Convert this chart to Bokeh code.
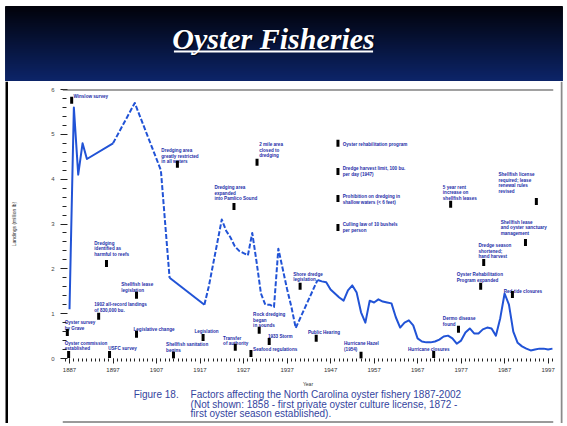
import numpy as np
from bokeh.plotting import figure
from bokeh.models import Range1d, FixedTicker, Span
from bokeh.layouts import column, row
from bokeh.core.properties import value
from bokeh.embed import file_html
from bokeh.resources import INLINE

# ---------------- data ----------------
title_text = "Oyster Fisheries"

years = [1887, 1888, 1889, 1890, 1891, 1897, 1902, 1908, 1909, 1910,
         1918, 1919, 1920, 1921, 1922, 1923, 1924, 1925, 1926, 1927,
         1928, 1929, 1930, 1931, 1932, 1933, 1934, 1935, 1936, 1937,
         1938, 1939, 1944, 1945, 1946, 1947, 1948, 1949, 1950, 1951,
         1952, 1953, 1954, 1955, 1956, 1957, 1958, 1959, 1960, 1961,
         1962, 1963, 1964, 1965, 1966, 1967, 1968, 1969, 1970, 1971,
         1972, 1973, 1974, 1975, 1976, 1977, 1978, 1979, 1980, 1981,
         1982, 1983, 1984, 1985, 1986, 1987, 1988, 1989, 1990, 1991,
         1992, 1993, 1994, 1995, 1996, 1997, 1998]
landings = [1.10, 5.60, 4.10, 4.80, 4.45, 4.80, 5.70, 4.20, 3.00, 1.80,
            1.20, 1.60, 2.10, 2.60, 3.10, 2.85, 2.70, 2.50, 2.40, 2.35,
            2.30, 2.80, 2.15, 1.45, 1.20, 1.20, 1.15, 2.45, 2.00, 1.55,
            1.15, 0.68, 1.75, 1.72, 1.70, 1.54, 1.45, 1.36, 1.29, 1.52,
            1.63, 1.47, 1.03, 0.80, 1.29, 1.25, 1.32, 1.27, 1.25, 1.23,
            0.92, 0.69, 0.80, 0.85, 0.74, 0.45, 0.38, 0.36, 0.36, 0.38,
            0.42, 0.49, 0.51, 0.45, 0.33, 0.40, 0.58, 0.67, 0.56, 0.56,
            0.65, 0.69, 0.67, 0.51, 0.90, 1.45, 1.20, 0.60, 0.35, 0.27,
            0.22, 0.18, 0.20, 0.22, 0.22, 0.20, 0.22]
dashed_periods = [(1897, 1910), (1918, 1944)]

x_ticks = list(range(1887, 1998, 10))
x_minor = list(range(1886, 1999))
y_ticks = [0, 1, 2, 3, 4, 5, 6]
y_minor = [round(v * 0.2, 1) for v in range(0, 31)]
x_label = "Year"
y_label = "Landings (million lb)"

ann_years = [1887.9, 1908.1, 1930.6, 1920.3, 1949.8, 1949.8, 1949.8, 1949.8,
             1972.8, 1985.6, 1986.1, 1981.0, 1976.0, 1986.8, 1972.8, 1964.8,
             1938.4, 1929.2, 1932.6, 1929.2, 1941.8, 1950.1, 1915.7, 1922.3,
             1909.2, 1885.9, 1885.9, 1895.9, 1901.7, 1892.7, 1898.9, 1892.7]
ann_values = [5.89, 4.69, 4.82, 3.86, 4.84, 4.29, 3.66, 3.04,
              3.88, 4.15, 3.10, 2.57, 1.92, 1.56, 0.94, 0.25,
              1.94, 1.03, 0.54, 0.25, 0.63, 0.38, 0.65, 0.51,
              0.36, 0.85, 0.40, 0.27, 0.71, 1.25, 1.70, 2.63]
ann_texts = [
    "Winslow survey",
    "Dredging area\ngreatly restricted\nin all waters",
    "2 mile area\nclosed to\ndredging",
    "Dredging area\nexpanded\ninto Pamlico Sound",
    "Oyster rehabilitation program",
    "Dredge harvest limit, 100 bu.\nper day (1947)",
    "Prohibition on dredging in\nshallow waters (< 6 feet)",
    "Culling law of 10 bushels\nper person",
    "5 year rent\nincrease on\nshellfish leases",
    "Shellfish license\nrequired; lease\nrenewal rules\nrevised",
    "Shellfish lease\nand oyster sanctuary\nmanagement",
    "Dredge season\nshortened;\nhand harvest",
    "Oyster Rehabilitation\nProgram expanded",
    "Red tide closures",
    "Dermo disease\nfound",
    "Hurricane closures",
    "Shore dredge\nlegislation",
    "Rock dredging\nbegan\nin sounds",
    "1933 Storm",
    "Seafood regulations",
    "Public Hearing",
    "Hurricane Hazel\n(1954)",
    "Legislation",
    "Transfer\nof authority",
    "Shellfish sanitation\nbegins",
    "Oyster survey\nby Grave",
    "Oyster commission\nestablished",
    "USFC survey",
    "Legislative change",
    "1902 all-record landings\nof 830,000 bu.",
    "Shellfish lease\nlegislation",
    "Dredging\nidentified as\nharmful to reefs",
]
mark_years = [1887.5, 1911.8, 1930.1, 1924.8, 1948.7, 1948.7, 1948.7, 1948.7,
              1974.6, 1994.3, 1991.8, 1982.2, 1981.5, 1988.8, 1976.4, 1970.7,
              1940.0, 1930.6, 1932.9, 1928.7, 1943.7, 1954.0, 1917.7, 1925.1,
              1910.9, 1886.5, 1886.8, 1896.2, 1902.4, 1893.7, 1902.4, 1895.5]
mark_values = [5.76, 4.33, 4.38, 3.39, 4.80, 4.17, 3.57, 2.92,
               3.44, 3.50, 2.59, 2.14, 1.61, 1.43, 0.65, 0.09,
               1.61, 0.63, 0.38, 0.11, 0.45, 0.07, 0.47, 0.25,
               0.07, 0.58, 0.09, 0.09, 0.54, 0.94, 1.41, 2.12]

caption_lead = "Figure 18."
caption_lines = [
    "Factors affecting the North Carolina oyster fishery 1887-2002",
    "(Not shown: 1858 - first private oyster culture license, 1872 -",
    "first oyster season established).",
]

# ---------------- styles ----------------
BLUE = "#2153d6"
NAVY = "#1d2ea8"
CAPTION = "#34449e"
SANS = value("Liberation Sans")
W, H = 567, 426          # page size; all decorations use page pixels
HEAD_H = 81
CHART_H = 308
LEFT_W, RIGHT_W = 8, 7
CW = W - LEFT_W - RIGHT_W
CAP_H = H - HEAD_H - CHART_H


def bare(fig):
    fig.grid.visible = False
    fig.outline_line_color = None
    return fig


def canvas(w, h, y0, bg="white"):
    # a plain figure whose data units are page pixels (y downwards)
    return bare(figure(width=w, height=h, x_range=Range1d(0, w), y_range=Range1d(y0 + h, y0),
                       x_axis_location=None, y_axis_location=None, min_border=0,
                       output_backend="svg", toolbar_location=None,
                       background_fill_color=bg, border_fill_color=bg))


# ---------------- header ----------------
header = canvas(W, HEAD_H, 0)
top_rgb = np.array([1, 2, 10])
bot_rgb = np.array([12, 36, 104])
rows = np.arange(6, HEAD_H)
cols = []
for r in rows:
    t = (r - 6) / (HEAD_H - 7)
    c = top_rgb * (1 - t) + bot_rgb * t
    cols.append("#%02x%02x%02x" % tuple(int(round(v)) for v in c))
header.quad(left=5, right=562, top=rows, bottom=rows + 1, fill_color=cols, line_color=cols)
cx, cy = 273, 37.5
header.text(x=[cx + 1.5], y=[cy + 1.5], text=[title_text], text_font=value("Liberation Serif"),
            text_font_style="bold italic", text_font_size="30px", text_color="#000000",
            text_alpha=0.6, text_align="center", text_baseline="middle")
header.text(x=[cx], y=[cy], text=[title_text], text_font=value("Liberation Serif"),
            text_font_style="bold italic", text_font_size="30px", text_color="#ffffff",
            text_align="center", text_baseline="middle")
half_w = 0.5 * 6.75 * 29.5
header.segment(x0=[cx - half_w], y0=[51], x1=[cx + half_w], y1=[51],
               line_color="#ffffff", line_width=2)

# ---------------- chart ----------------
p = bare(figure(width=CW, height=CHART_H, x_range=Range1d(1885.39, 1998.24), y_range=Range1d(0, 6),
                min_border_left=53, min_border_right=7, min_border_top=8, min_border_bottom=31,
                output_backend="svg", toolbar_location=None,
                background_fill_color="white", border_fill_color="white"))

xa = p.xaxis[0]
xa.ticker = FixedTicker(ticks=x_ticks, minor_ticks=x_minor)
xa.axis_line_color = None
xa.major_tick_line_color = "#222222"
xa.minor_tick_line_color = "#222222"
xa.major_tick_out, xa.major_tick_in = 5, 0
xa.minor_tick_out, xa.minor_tick_in = 3, 0
xa.major_label_text_font = "Liberation Sans"
xa.major_label_text_font_size = "6px"
xa.major_label_text_color = "#333333"
xa.major_label_standoff = 4
xa.axis_label = x_label
xa.axis_label_text_font = "Liberation Sans"
xa.axis_label_text_font_size = "5px"
xa.axis_label_text_font_style = "normal"
xa.axis_label_text_color = "#333333"
xa.axis_label_standoff = 6

ya = p.yaxis[0]
ya.ticker = FixedTicker(ticks=y_ticks, minor_ticks=y_minor)
ya.axis_line_color = None
ya.major_tick_line_color = "#222222"
ya.minor_tick_line_color = "#222222"
ya.major_tick_out, ya.major_tick_in = 2, 5
ya.minor_tick_out, ya.minor_tick_in = 0, 4
ya.major_label_text_font = "Liberation Sans"
ya.major_label_text_font_size = "6px"
ya.major_label_text_color = "#444444"
ya.major_label_standoff = 6
ya.axis_label = y_label
ya.axis_label_text_font = "Liberation Sans"
ya.axis_label_text_font_size = "5px"
ya.axis_label_text_font_style = "normal"
ya.axis_label_text_color = "#333333"
ya.axis_label_standoff = 31

p.add_layout(Span(location=y_ticks[-1], dimension="width", line_color="#444444", line_width=2))


def is_dashed(a, b):
    return any(lo <= a and b <= hi for lo, hi in dashed_periods)


runs = []
cur = [0]
cur_d = is_dashed(years[0], years[1])
for i in range(1, len(years)):
    d = is_dashed(years[i - 1], years[i])
    if d != cur_d:
        runs.append((cur_d, cur))
        cur = [i - 1]
        cur_d = d
    cur.append(i)
runs.append((cur_d, cur))
for d, idx in runs:
    xs = [years[i] for i in idx]
    ys = [landings[i] for i in idx]
    p.line(xs, ys, line_color=BLUE, line_width=2.0,
           line_dash="5 2" if d else "solid", line_join="round")

p.text(x=ann_years, y=ann_values, text=ann_texts, text_font=SANS, text_font_style="bold",
       text_font_size="4.6px", text_color=NAVY, text_baseline="top", text_align="left",
       text_line_height=1.1)
p.rect(x=mark_years, y=mark_values, width=3, height=7, width_units="screen",
       height_units="screen", fill_color="#000000", line_color=None)

# ---------------- caption ----------------
cap = canvas(CW, CAP_H, HEAD_H + CHART_H)
cap.text(x=[88 - LEFT_W], y=[394], text=[caption_lead], text_font=SANS, text_font_size="10px",
         text_color=CAPTION, text_baseline="middle")
cap.text(x=[152 - LEFT_W] * len(caption_lines), y=[394 + 9.6 * i for i in range(len(caption_lines))],
         text=caption_lines, text_font=SANS, text_font_size="10px",
         text_color=CAPTION, text_baseline="middle")
cap.quad(left=[0], right=[CW], top=[420.5], bottom=[422.5], fill_color="#9a9a9a", line_color=None)

# ---------------- side strips ----------------
left = canvas(LEFT_W, H - HEAD_H, HEAD_H)
left.quad(left=[5], right=[8], top=[HEAD_H], bottom=[422.5], fill_color="#000000", line_color=None)
right = canvas(RIGHT_W, H - HEAD_H, HEAD_H)
right.quad(left=[0], right=[2], top=[HEAD_H], bottom=[422.5], fill_color="#8a8a8a", line_color=None)

layout = column(header, row(left, column(p, cap, spacing=0), right, spacing=0), spacing=0)

open("out.html", "w").write(file_html(layout, INLINE))
